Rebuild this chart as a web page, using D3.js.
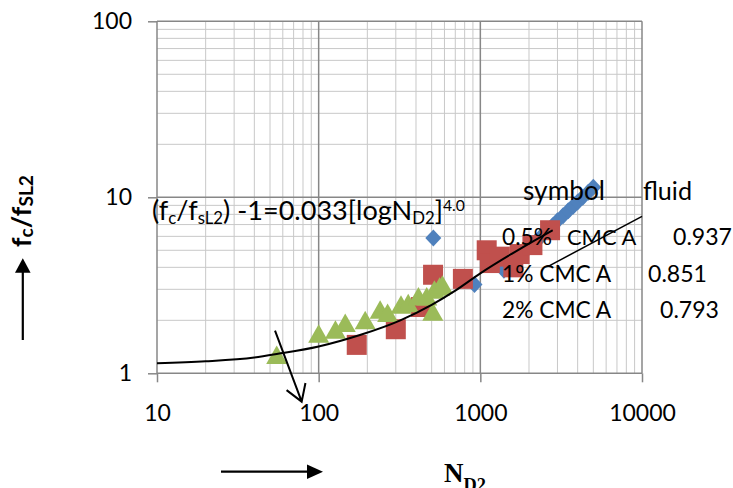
<!DOCTYPE html>
<html><head><meta charset="utf-8">
<script src="https://cdn.jsdelivr.net/npm/d3@7"></script>
<style>
body{margin:0;background:#fff}
svg{display:block}
text{font-family:Lato,"Open Sans",sans-serif;fill:#000}
</style>
</head><body>
<svg id="c" width="733" height="488"></svg>
<script>
// ---------- data ----------
const xTicks = [10, 100, 1000, 10000];
const yTicks = [1, 10, 100];
const xTickLabels = ["10", "100", "1000", "10000"];
const yTickLabels = ["1", "10", "100"];

// 0.5% CMC A (blue diamonds)  [N_D2, fc/fsL2]
const cmc05 = [[512,5.87],[920,3.2],[1400,3.85],[1550,4.2],[1700,4.5],[1850,4.85],[2000,5.2],[2200,5.6],
  [2400,6.05],[2600,6.5],[2800,6.9],[3000,7.35],[3250,7.85],[3500,8.4],[3750,8.9],[4000,9.4],
  [4300,10.0],[4650,10.7],[5000,11.4]];
// 1% CMC A (red squares)
const cmc1 = [[172,1.45],[300,1.78],[430,2.38],[510,3.63],[780,3.44],[1095,5.0],[1145,4.23],
  [1320,4.6],[1600,4.0],[1750,4.76],[2100,5.35],[2700,6.5]];
// 2% CMC A (green triangles)
const cmc2 = [[55,1.27],[100,1.68],[127,1.77],[146,1.93],[194,2.0],[240,2.3],[267,2.2],[323,2.45],
  [358,2.5],[414,2.73],[466,2.73],[508,2.24],[520,2.98],[560,3.1],[583,3.18]];
// correlation curve as drawn
const fitCurve = [[10,1.14],[20,1.17],[40,1.23],[56,1.29],[100,1.42],[180,1.65],[320,2.0],
  [500,2.45],[700,2.95],[1000,3.7],[1700,5.0],[2800,6.5]];
const guideLine = [[2630,4.05],[10000,7.8]];
const pointerArrow = [[53.7,1.75],[78.5,0.69]];
const legendNames = ["0.5%", "1% CMC A", "2% CMC A"];
const legendValues = ["0.937", "0.851", "0.793"];

// ---------- chart ----------
const svg = d3.select("#c");
const x = d3.scaleLog().domain([10, 10000]).range([157, 642]);
const y = d3.scaleLog().domain([1, 100]).range([373.3, 21.3]);

function fit(t, w) {
  const b = t.node().getBBox().width;
  const fs = parseFloat(t.attr("font-size"));
  t.attr("font-size", fs * w / b);
  return t;
}

// grid
const minorX = [], minorY = [];
[10,100,1000].forEach(d => { for (let k = 2; k <= 9; k++) minorX.push(k*d); });
[1,10].forEach(d => { for (let k = 2; k <= 9; k++) minorY.push(k*d); });
const g = svg.append("g");
g.selectAll(".mx").data(minorX).join("line")
  .attr("x1", d => x(d)).attr("x2", d => x(d)).attr("y1", y(1)).attr("y2", y(100))
  .attr("stroke", "#c8c8c8").attr("stroke-width", 1);
g.selectAll(".my").data(minorY).join("line")
  .attr("y1", d => y(d)).attr("y2", d => y(d)).attr("x1", x(10)).attr("x2", x(10000))
  .attr("stroke", "#c8c8c8").attr("stroke-width", 1);
g.selectAll(".Mx").data(xTicks).join("line")
  .attr("x1", d => x(d)).attr("x2", d => x(d)).attr("y1", y(1)).attr("y2", y(100))
  .attr("stroke", "#878787").attr("stroke-width", 1.5);
g.selectAll(".My").data(yTicks).join("line")
  .attr("y1", d => y(d)).attr("y2", d => y(d)).attr("x1", x(10)).attr("x2", x(10000))
  .attr("stroke", "#878787").attr("stroke-width", 1.5);

// axes
const xAxis = d3.axisBottom(x).tickValues(xTicks).tickFormat((d,i) => xTickLabels[i]).tickSize(9).tickPadding(22);
const yAxis = d3.axisLeft(y).tickValues(yTicks).tickFormat((d,i) => yTickLabels[i]).tickSize(9).tickPadding(16);
const gx = svg.append("g").attr("transform", `translate(0,${y(1)})`).call(xAxis);
const gy = svg.append("g").attr("transform", `translate(${x(10)},0)`).call(yAxis);
[gx, gy].forEach(a => {
  a.select(".domain").remove();
  a.selectAll("line").attr("stroke", "#878787").attr("stroke-width", 1.5);
  a.selectAll("text").attr("font-size", 23).attr("font-family", "Lato").attr("fill", "#000");
});
gx.selectAll("text").attr("dy", "0.71em");

// markers
const diamond = "M0,-8.5L8,0L0,8.5L-8,0Z";
const square = "M-10,-10H10V10H-10Z";
const tri = "M0,-9.5L10.5,9L-10.5,9Z";
svg.append("g").selectAll("path").data(cmc05).join("path")
  .attr("d", diamond).attr("transform", d => `translate(${x(d[0])},${y(d[1])})`).attr("fill", "#4f81bd");
svg.append("g").selectAll("path").data(cmc1).join("path")
  .attr("d", square).attr("transform", d => `translate(${x(d[0])},${y(d[1])})`).attr("fill", "#c0504d");
svg.append("g").selectAll("path").data(cmc2).join("path")
  .attr("d", tri).attr("transform", d => `translate(${x(d[0])},${y(d[1])})`).attr("fill", "#9bbb59");

// curve and lines
const line = d3.line().x(d => x(d[0])).y(d => y(d[1]));
svg.append("path").datum(fitCurve).attr("d", line.curve(d3.curveMonotoneX))
  .attr("fill", "none").attr("stroke", "#000").attr("stroke-width", 2);
svg.append("path").datum(guideLine).attr("d", d3.line().x(d => x(d[0])).y(d => y(d[1])))
  .attr("fill", "none").attr("stroke", "#000").attr("stroke-width", 1.5);

// pointer arrow (open head)
{
  const [a, b] = pointerArrow;
  const x1 = x(a[0]), y1 = y(a[1]), x2 = x(b[0]), y2 = y(b[1]);
  const ang = Math.atan2(y2 - y1, x2 - x1);
  const L = 19, h = 32 * Math.PI / 180;
  const p = d3.path();
  p.moveTo(x1, y1); p.lineTo(x2, y2);
  p.moveTo(x2 - L*Math.cos(ang - h), y2 - L*Math.sin(ang - h)); p.lineTo(x2, y2);
  p.lineTo(x2 - L*Math.cos(ang + h), y2 - L*Math.sin(ang + h));
  svg.append("path").attr("d", p.toString()).attr("fill", "none").attr("stroke", "#000").attr("stroke-width", 2);
}

// equation
const eq = svg.append("text").attr("x", 152).attr("y", 219.5).attr("font-size", 24);
eq.append("tspan").text("(f");
eq.append("tspan").text("c").attr("font-size", "0.62em").attr("dy", "0.25em");
eq.append("tspan").text("/f").attr("dy", "-0.155em");
eq.append("tspan").text("sL2").attr("font-size", "0.62em").attr("dy", "0.25em");
eq.append("tspan").text(") -1=0.033[logN").attr("dy", "-0.155em");
eq.append("tspan").text("D2").attr("font-size", "0.62em").attr("dy", "0.25em");
eq.append("tspan").text("]").attr("dy", "-0.155em");
eq.append("tspan").text("4.0").attr("font-size", "0.58em").attr("dy", "-0.55em");
fit(eq, 313);

// legend-like table
fit(svg.append("text").attr("x", 523).attr("y", 200).attr("font-size", 26).text("symbol"), 82);
fit(svg.append("text").attr("x", 643).attr("y", 200).attr("font-size", 26).text("fluid"), 49);
const rowY = [245, 281.7, 318];
const valX = [673, 648, 660];
legendNames.forEach((n, i) => {
  fit(svg.append("text").attr("x", 502).attr("y", rowY[i]).attr("font-size", 24).text(n), i === 0 ? 50 : 110);
  fit(svg.append("text").attr("x", valX[i]).attr("y", rowY[i]).attr("font-size", 24).text(legendValues[i]), 59);
});
fit(svg.append("text").attr("x", 567).attr("y", 245).attr("font-size", 24).text("CMC A"), 70);

// y-axis title with arrow
const yt = svg.append("text").attr("transform", "translate(31,211) rotate(-90)")
  .attr("text-anchor", "middle").attr("font-size", 27).attr("font-weight", "bold");
yt.append("tspan").text("f");
yt.append("tspan").text("c").attr("font-size", "0.72em").attr("dy", "0.12em");
yt.append("tspan").text("/f").attr("dy", "-0.086em");
yt.append("tspan").text("SL2").attr("font-size", "0.72em").attr("dy", "0.12em");
fit(yt, 72);
svg.append("line").attr("x1", 22.8).attr("x2", 22.8).attr("y1", 340).attr("y2", 270)
  .attr("stroke", "#000").attr("stroke-width", 2.2);
svg.append("path").attr("d", "M15,272.7L30.6,272.7L22.8,258.3Z").attr("fill", "#000");

// x-axis title with arrow
svg.append("line").attr("x1", 221).attr("x2", 309).attr("y1", 471.7).attr("y2", 471.7)
  .attr("stroke", "#000").attr("stroke-width", 2.2);
svg.append("path").attr("d", "M307,464.5L307,479L323,471.7Z").attr("fill", "#000");
const xt = svg.append("text").attr("x", 444).attr("y", 481.7)
  .attr("font-family", "'Liberation Serif',serif").attr("font-weight", "bold").attr("font-size", 27);
xt.append("tspan").text("N").style("font-family", "'Liberation Serif',serif");
xt.append("tspan").text("D2").attr("font-size", "0.68em").attr("dy", "0.5em").style("font-family", "'Liberation Serif',serif");
</script>
</body></html>
